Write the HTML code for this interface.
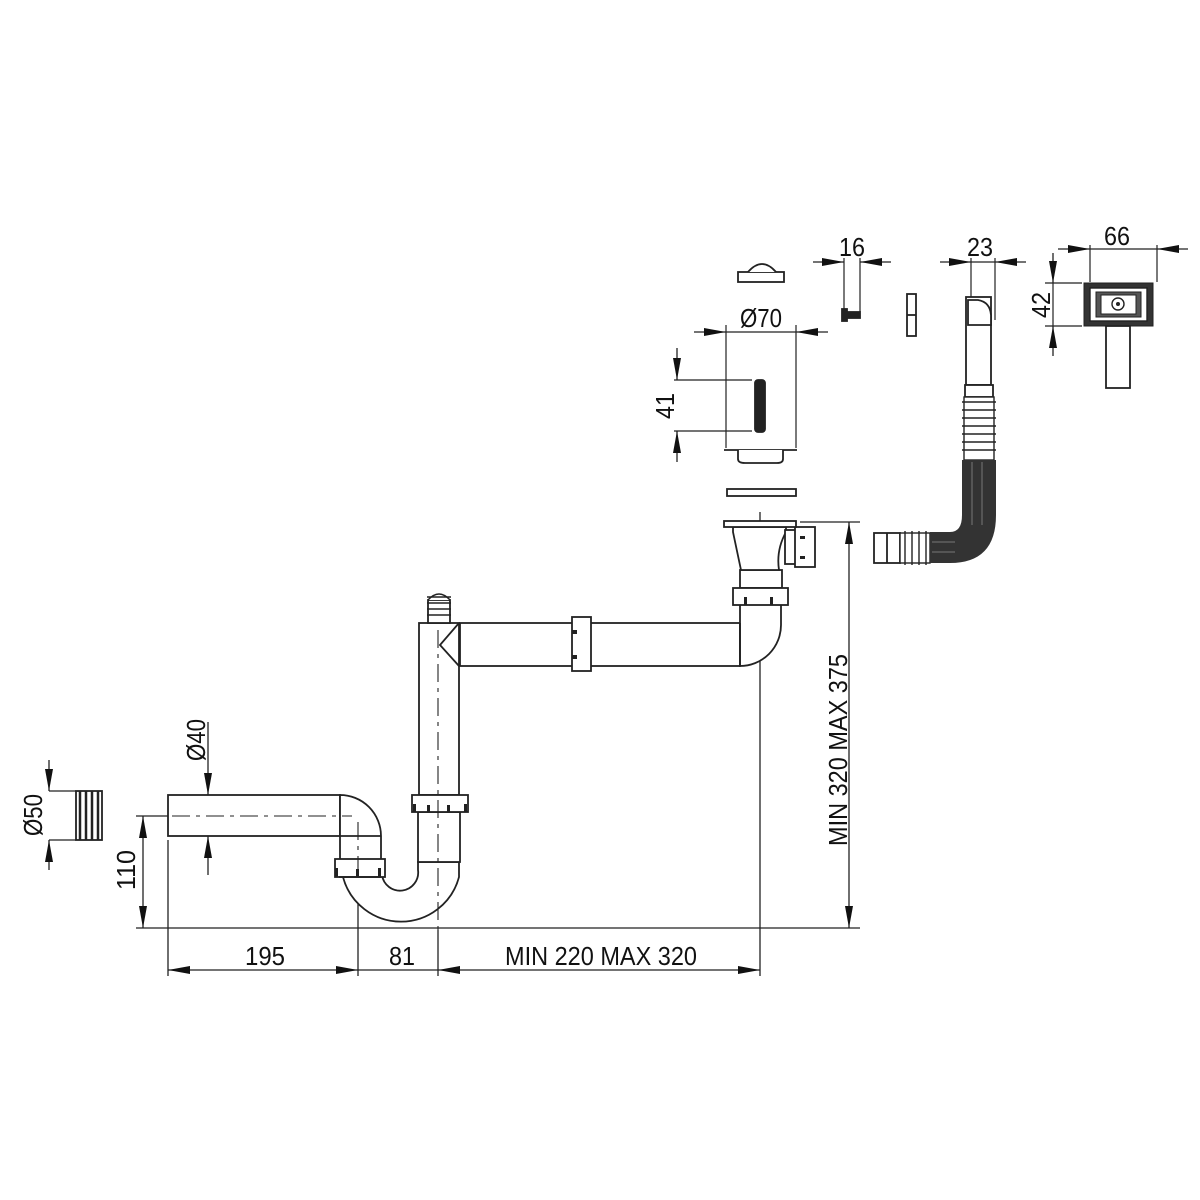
<!DOCTYPE html>
<html><head><meta charset="utf-8">
<style>
html,body{margin:0;padding:0;background:#fff;}
svg{display:block;}
text{font-family:"Liberation Sans Narrow","Liberation Sans",sans-serif;font-size:26px;fill:#111;}
</style></head>
<body>
<svg width="1200" height="1200" viewBox="0 0 1200 1200" xmlns="http://www.w3.org/2000/svg">
<defs>
<marker id="a" viewBox="0 0 22 8" refX="22" refY="4" markerWidth="22" markerHeight="8" markerUnits="userSpaceOnUse" orient="auto-start-reverse">
<path d="M0,0 L22,4 L0,8 z" fill="#111"/>
</marker>
</defs>
<rect width="1200" height="1200" fill="#fff"/>

<g fill="none" stroke="#222" stroke-width="1.6">
<line x1="136" y1="928" x2="860" y2="928" stroke-width="1.3"/>
<line x1="136" y1="816" x2="168" y2="816" stroke-width="1.3"/>
<line x1="143" y1="816" x2="143" y2="928" marker-start="url(#a)" marker-end="url(#a)" stroke-width="1.3"/>
<line x1="208" y1="722" x2="208" y2="795" marker-end="url(#a)" stroke-width="1.3"/>
<line x1="208" y1="875" x2="208" y2="836" marker-end="url(#a)" stroke-width="1.3"/>
<line x1="49" y1="760" x2="49" y2="791" marker-end="url(#a)" stroke-width="1.3"/>
<line x1="49" y1="870" x2="49" y2="840" marker-end="url(#a)" stroke-width="1.3"/>
<line x1="49" y1="791" x2="76" y2="791" stroke-width="1.2"/>
<line x1="49" y1="840" x2="76" y2="840" stroke-width="1.2"/>
<line x1="168" y1="840" x2="168" y2="976" stroke-width="1.3"/>
<line x1="358" y1="872" x2="358" y2="976" stroke-width="1.3"/>
<line x1="438" y1="930" x2="438" y2="976" stroke-width="1.3"/>
<line x1="760" y1="512" x2="760" y2="976" stroke-width="1.3"/>
<line x1="168" y1="970" x2="358" y2="970" marker-start="url(#a)" marker-end="url(#a)" stroke-width="1.3"/>
<line x1="358" y1="970" x2="438" y2="970" stroke-width="1.3"/>
<line x1="438" y1="970" x2="760" y2="970" marker-start="url(#a)" marker-end="url(#a)" stroke-width="1.3"/>
<line x1="800" y1="522" x2="860" y2="522" stroke-width="1.3"/>
<line x1="849" y1="522" x2="849" y2="928" marker-start="url(#a)" marker-end="url(#a)" stroke-width="1.3"/>

<line x1="726" y1="325" x2="726" y2="448" stroke-width="1.2"/>
<line x1="796" y1="325" x2="796" y2="448" stroke-width="1.2"/>
<line x1="694" y1="332" x2="726" y2="332" marker-end="url(#a)" stroke-width="1.3"/>
<line x1="828" y1="332" x2="796" y2="332" marker-end="url(#a)" stroke-width="1.3"/>
<line x1="726" y1="332" x2="796" y2="332" stroke-width="1.2"/>
<line x1="674" y1="380" x2="752" y2="380" stroke-width="1.2"/>
<line x1="674" y1="431" x2="752" y2="431" stroke-width="1.2"/>
<line x1="677" y1="348" x2="677" y2="380" marker-end="url(#a)" stroke-width="1.3"/>
<line x1="677" y1="462" x2="677" y2="431" marker-end="url(#a)" stroke-width="1.3"/>
<line x1="844" y1="258" x2="844" y2="312" stroke-width="1.2"/>
<line x1="860" y1="258" x2="860" y2="312" stroke-width="1.2"/>
<line x1="813" y1="262" x2="844" y2="262" marker-end="url(#a)" stroke-width="1.3"/>
<line x1="891" y1="262" x2="860" y2="262" marker-end="url(#a)" stroke-width="1.3"/>
<line x1="971" y1="258" x2="971" y2="300" stroke-width="1.2"/>
<line x1="995" y1="258" x2="995" y2="320" stroke-width="1.2"/>
<line x1="940" y1="262" x2="971" y2="262" marker-end="url(#a)" stroke-width="1.3"/>
<line x1="1026" y1="262" x2="995" y2="262" marker-end="url(#a)" stroke-width="1.3"/>
<line x1="971" y1="262" x2="995" y2="262" stroke-width="1.2"/>
<line x1="1090" y1="245" x2="1090" y2="282" stroke-width="1.2"/>
<line x1="1157" y1="245" x2="1157" y2="282" stroke-width="1.2"/>
<line x1="1058" y1="249" x2="1090" y2="249" marker-end="url(#a)" stroke-width="1.3"/>
<line x1="1188" y1="249" x2="1157" y2="249" marker-end="url(#a)" stroke-width="1.3"/>
<line x1="1090" y1="249" x2="1157" y2="249" stroke-width="1.2"/>
<line x1="1045" y1="283" x2="1082" y2="283" stroke-width="1.2"/>
<line x1="1045" y1="326" x2="1082" y2="326" stroke-width="1.2"/>
<line x1="1053" y1="253" x2="1053" y2="283" marker-end="url(#a)" stroke-width="1.3"/>
<line x1="1053" y1="356" x2="1053" y2="326" marker-end="url(#a)" stroke-width="1.3"/>
<line x1="1053" y1="283" x2="1053" y2="326" stroke-width="1.2"/>
</g>

<g fill="#fff" stroke="#222" stroke-width="1.8">
<rect x="76" y="791" width="26" height="49"/>
<g stroke-width="2.5"><line x1="80" y1="791" x2="80" y2="840"/><line x1="86" y1="791" x2="86" y2="840"/><line x1="92" y1="791" x2="92" y2="840"/><line x1="98" y1="791" x2="98" y2="840"/></g>

<rect x="168" y="795" width="172" height="41"/>
<path d="M340,795 A41,41 0 0 1 381,836 L381,860 L340,860 L340,836 Z"/>
<line x1="340" y1="836" x2="381" y2="836"/>
<!-- U bend -->
<path d="M343,877 A60,60 0 0 0 459,877 L459,862 L418,862 L418,870 A18,18 0 0 1 382,875 Z"/>
<rect x="335" y="859" width="50" height="18"/>
<line x1="339" y1="877" x2="381" y2="877"/>
<!-- riser lower -->
<rect x="418" y="812" width="42" height="50"/>
<rect x="419" y="623" width="40" height="172"/>
<rect x="412" y="795" width="56" height="17"/>
<rect x="428" y="600" width="22" height="23"/>
<g stroke-width="1.4">
<path d="M428,600 Q439,588 450,600"/>
<line x1="427" y1="597" x2="451" y2="597"/><line x1="427" y1="603" x2="451" y2="603"/><line x1="427" y1="609" x2="451" y2="609"/><line x1="427" y1="615" x2="451" y2="615"/>
</g>
<rect x="460" y="623" width="280" height="43"/>
<path d="M459,623 L440,645 L459,666" fill="none"/>
<rect x="572" y="617" width="19" height="54"/>
<path d="M740,666 A41,41 0 0 0 781,625 L781,600 L740,600 Z"/>
<line x1="740" y1="623" x2="740" y2="666"/>
<rect x="740" y="570" width="42" height="18"/>
<rect x="733" y="588" width="55" height="17"/>
<path d="M733,527 L786,527 L786,532 Q776,550 779,570 L741,570 L733,532 Z"/>
<rect x="785" y="530" width="11" height="34"/>
<rect x="795" y="527" width="20" height="40"/>
<rect x="724" y="521" width="72" height="6"/>

<rect x="727" y="489" width="69" height="7"/>
<line x1="724" y1="450" x2="797" y2="450"/>
<path d="M738,450 L738,459 Q738,463 745,463 L777,463 Q783,463 783,459 L783,450"/>
<rect x="755" y="380" width="10" height="52" rx="3" fill="#222"/>
<rect x="738" y="272" width="46" height="10"/>
<path d="M748,272 Q762,256 776,272"/>

<rect x="846" y="312" width="14" height="6" fill="#222"/>
<rect x="842" y="309" width="5" height="12" fill="#222"/>
<rect x="907" y="294" width="9" height="42"/>
<line x1="907" y1="315" x2="916" y2="315"/>

<rect x="966" y="297" width="25" height="88"/>
<path d="M968,300 L978,300 Q990,302 991,315 L991,325 L968,325 Z"/>
<rect x="965" y="385" width="28" height="12"/>
<rect x="874" y="533" width="26" height="30"/>
<line x1="887" y1="533" x2="887" y2="563"/>
</g>
<g stroke="#222" stroke-width="1.4">
<rect x="964" y="397" width="30" height="63" fill="#fff"/>
<line x1="962" y1="402" x2="996" y2="402"/><line x1="962" y1="410" x2="996" y2="410"/><line x1="962" y1="418" x2="996" y2="418"/><line x1="962" y1="426" x2="996" y2="426"/><line x1="962" y1="434" x2="996" y2="434"/><line x1="962" y1="442" x2="996" y2="442"/><line x1="962" y1="450" x2="996" y2="450"/>
<rect x="900" y="533" width="30" height="30" fill="#fff"/>
<line x1="905" y1="531" x2="905" y2="565"/><line x1="912" y1="531" x2="912" y2="565"/><line x1="919" y1="531" x2="919" y2="565"/><line x1="926" y1="531" x2="926" y2="565"/>
</g>
<path d="M962,460 L996,460 L996,515 Q996,563 950,563 L930,563 L930,532 L950,532 Q962,532 962,515 Z" fill="#333"/>
<g stroke="#777" stroke-width="1">
<line x1="972" y1="462" x2="972" y2="525"/><line x1="982" y1="462" x2="982" y2="525"/>
<line x1="932" y1="542" x2="955" y2="542"/><line x1="932" y1="552" x2="955" y2="552"/>
</g>

<rect x="1084" y="283" width="69" height="43" fill="#333" stroke="#222"/>
<rect x="1090" y="288" width="57" height="33" fill="#fff" stroke="#222" stroke-width="1.4"/>
<rect x="1096" y="292" width="45" height="25" fill="#555" stroke="#222"/>
<rect x="1101" y="295" width="35" height="19" fill="#fff" stroke="#222"/>
<circle cx="1118" cy="304" r="6" fill="#fff" stroke="#222" stroke-width="1.4"/>
<circle cx="1118" cy="304" r="2" fill="#222"/>
<rect x="1106" y="326" width="24" height="62" fill="#fff" stroke="#222" stroke-width="1.8"/>

<g fill="#222">
<rect x="335" y="868" width="3" height="9"/><rect x="356" y="869" width="3" height="8"/><rect x="378" y="868" width="3" height="9"/>
<rect x="413" y="804" width="3" height="8"/><rect x="427" y="805" width="3" height="7"/><rect x="447" y="805" width="3" height="7"/><rect x="464" y="804" width="3" height="8"/>
<rect x="744" y="597" width="3" height="8"/><rect x="770" y="597" width="3" height="8"/>
<rect x="572" y="630" width="5" height="4"/><rect x="572" y="655" width="5" height="4"/>
<rect x="800" y="536" width="5" height="3"/><rect x="800" y="556" width="5" height="3"/>
</g>

<g stroke="#222" stroke-width="1.1" stroke-dasharray="18,6,4,6" fill="none">
<line x1="138" y1="816" x2="352" y2="816"/>
<line x1="358" y1="822" x2="358" y2="872"/>
<line x1="438" y1="630" x2="438" y2="930"/>
</g>

<text x="265" y="965" text-anchor="middle" textLength="40" lengthAdjust="spacingAndGlyphs">195</text>
<text x="402" y="965" text-anchor="middle" textLength="26" lengthAdjust="spacingAndGlyphs">81</text>
<text x="601" y="965" text-anchor="middle" textLength="192" lengthAdjust="spacingAndGlyphs">MIN 220 MAX 320</text>
<text transform="translate(847,750) rotate(-90)" text-anchor="middle" textLength="192" lengthAdjust="spacingAndGlyphs">MIN 320 MAX 375</text>
<text transform="translate(135,870) rotate(-90)" text-anchor="middle" textLength="40" lengthAdjust="spacingAndGlyphs">110</text>
<text transform="translate(205,740) rotate(-90)" text-anchor="middle" textLength="42" lengthAdjust="spacingAndGlyphs">Ø40</text>
<text transform="translate(42,815) rotate(-90)" text-anchor="middle" textLength="42" lengthAdjust="spacingAndGlyphs">Ø50</text>
<text transform="translate(674,406) rotate(-90)" text-anchor="middle" textLength="26" lengthAdjust="spacingAndGlyphs">41</text>
<text transform="translate(1050,305) rotate(-90)" text-anchor="middle" textLength="26" lengthAdjust="spacingAndGlyphs">42</text>
<text x="761" y="327" text-anchor="middle" textLength="42" lengthAdjust="spacingAndGlyphs">Ø70</text>
<text x="852" y="256" text-anchor="middle" textLength="26" lengthAdjust="spacingAndGlyphs">16</text>
<text x="980" y="256" text-anchor="middle" textLength="26" lengthAdjust="spacingAndGlyphs">23</text>
<text x="1117" y="245" text-anchor="middle" textLength="26" lengthAdjust="spacingAndGlyphs">66</text>
</svg>
</body></html>
